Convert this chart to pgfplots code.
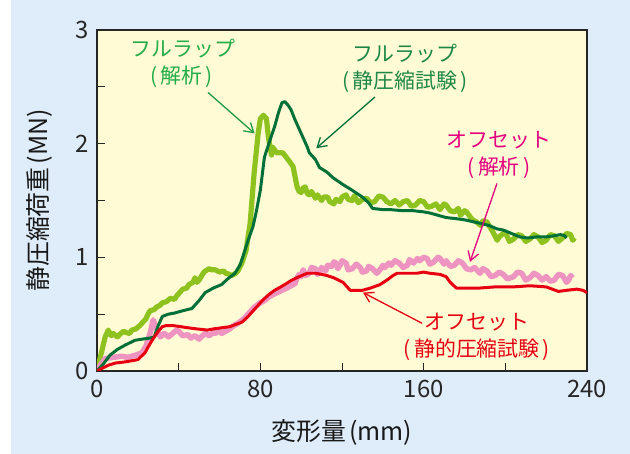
\documentclass[border=0pt]{standalone}
\usepackage{fontspec}
\setmainfont{Noto Sans CJK JP}
\usepackage{pgfplots}
\pgfplotsset{compat=1.18}
\usetikzlibrary{arrows.meta}
\definecolor{bgblue}{RGB}{223,236,249}
\definecolor{plotyellow}{RGB}{255,251,212}
\definecolor{lgreen}{RGB}{141,194,31}
\definecolor{dgreen}{RGB}{0,112,56}
\definecolor{lbllgreen}{RGB}{34,172,74}
\definecolor{lbldgreen}{RGB}{30,135,70}
\definecolor{mypink}{RGB}{238,148,192}
\definecolor{mymagenta}{RGB}{228,0,127}
\definecolor{myred}{RGB}{230,0,18}
\begin{document}
\begin{tikzpicture}
\fill[bgblue] (11bp,0) rectangle (630bp,454bp);
\path[use as bounding box] (0,0) rectangle (630bp,454bp);
\begin{axis}[
  at={(97bp,83bp)}, anchor=south west,
  scale only axis, width=490bp, height=341bp,
  xmin=0, xmax=240, ymin=0, ymax=3,
  axis background/.style={fill=plotyellow},
  axis line style={black!85, line width=1.3pt},
  xtick={0,80,160,240}, minor xtick={40,120,200},
  ytick={0,1,2,3}, minor ytick={0.5,1.5,2.5},
  tick align=inside, xtick pos=bottom, ytick pos=left,
  major tick length=8bp, minor tick length=8bp,
  tick style={black!85, line width=0.9pt},
  tick label style={font=\fontsize{24}{28}\selectfont, text=black!85},
  xticklabel style={yshift=-6bp},
  yticklabel style={xshift=-5bp},
  /pgf/number format/assume math mode=true,
  xlabel={変形量\kern.12em(mm)}, ylabel={静圧縮荷重\kern.12em(MN)},
  label style={font=\fontsize{25}{30}\selectfont, text=black!90},
  xlabel style={at={(axis description cs:0.5,-0.18)}, anchor=center},
  ylabel style={at={(axis description cs:-0.117,0.5)}, anchor=center},
  clip=true,
]
% light green: full wrap (analysis)
\addplot[lgreen, line width=5.2pt, line join=round] coordinates {
(0,0) (2,0.15) (4,0.30) (5.5,0.36) (7,0.31) (8,0.33) (10,0.30) (11,0.32) (13,0.35) (14,0.34)
(16,0.33) (17,0.36) (19,0.37) (21,0.40) (23,0.44) (24,0.46) (25,0.50) (26,0.53) (28,0.54)
(29,0.56) (31,0.58) (32,0.60) (34,0.61) (36,0.64) (38,0.63) (39,0.66) (41,0.70) (42,0.72)
(44,0.73) (45,0.76) (47,0.78) (48,0.82) (49,0.78) (50,0.80) (52,0.86) (53,0.88) (55,0.90)
(56,0.89) (58,0.89) (60,0.87) (62,0.88) (63,0.86) (65,0.85) (66,0.84) (68,0.86) (69,0.88)
(71,0.95) (73,1.06) (75,1.30) (77,1.75) (79,2.10) (80,2.22) (81.5,2.25)
(83,2.22) (84,2.05) (85.5,1.90) (86,1.97) (88,1.92) (91,1.92) (94,1.85) (96,1.80)
(98,1.62) (99,1.58) (100,1.57) (101,1.61) (102,1.62) (103,1.56) (104,1.55) (105,1.58) (107,1.52)
(108,1.55) (110,1.50) (111,1.53) (113,1.53) (114,1.49) (116,1.47) (117,1.51) (119,1.49) (120,1.53)
(122,1.55) (123,1.51) (125,1.50) (126,1.54) (128,1.48) (130,1.51) (132,1.52) (134,1.48) (136,1.49)
(138,1.54) (140,1.53) (142,1.49) (144,1.47) (146,1.50) (148,1.46) (150,1.49) (152,1.50) (154,1.45)
(156,1.46) (158,1.50) (160,1.49) (162,1.44) (164,1.45) (166,1.47) (168,1.42) (170,1.47) (171,1.46)
(173,1.41) (175,1.40) (177,1.43) (178,1.37) (180,1.41) (181,1.40) (183,1.35) (184,1.33) (186,1.31)
(188,1.28) (189,1.32) (191,1.31) (193,1.25) (194,1.22) (196,1.15) (197,1.18) (199,1.21) (200,1.22)
(202,1.14) (204,1.16) (206,1.20) (208,1.19) (210,1.14) (212,1.16) (214,1.20) (216,1.18) (218,1.13)
(220,1.15) (222,1.20) (224,1.19) (226,1.14) (228,1.17) (230,1.21) (232,1.20) (233,1.15) (234,1.17)
};
% pink: offset (analysis)
\addplot[mypink, line width=5.5pt, line join=round] coordinates {
(0,0) (2,0.06) (4,0.11) (8,0.12) (12,0.13) (15,0.12) (19,0.14) (22,0.16)
(24,0.22) (26,0.33) (27.5,0.45) (29,0.38) (30,0.34) (31,0.30) (33,0.33) (35,0.30) (37,0.33)
(39,0.36) (40,0.35) (42,0.31) (44.5,0.32) (46,0.29) (48,0.31) (50,0.28) (51,0.30) (53,0.33)
(55,0.31) (57,0.34) (58,0.33) (60,0.36) (61,0.33) (63,0.35) (65,0.37) (67,0.40) (69,0.42)
(72,0.46) (75,0.52) (77,0.56) (80,0.60) (82,0.62) (84,0.65) (87,0.68) (90.6,0.71) (94,0.74)
(97,0.77) (98,0.82) (99,0.85) (100,0.83) (101,0.89) (102,0.84) (104,0.86) (105,0.91) (107,0.90)
(108,0.85) (109,0.87) (110,0.91) (112,0.88) (113,0.93) (115,0.92) (116,0.96) (117,0.95) (118,0.90)
(119,0.93) (120,0.97) (122,0.95) (123,0.89) (125,0.90) (127,0.94) (129,0.91) (130,0.87) (132,0.88)
(133,0.92) (135,0.90) (137,0.86) (138.6,0.89) (140,0.93) (141,0.91) (143,0.95) (144,0.93) (146,0.97)
(148,0.95) (150,0.91) (152,0.93) (153,0.98) (155,0.95) (157,0.99) (158,0.97) (160,1.00) (161.6,0.99)
(163,0.94) (165,0.96) (167,1.00) (168,0.99) (170,0.94) (171,0.97) (173,0.92) (175,0.93) (177,0.97)
(179,0.95) (181,0.90) (183,0.89) (185,0.91) (187.6,0.86) (189,0.90) (191,0.88) (193,0.83) (195,0.84)
(197,0.87) (199,0.85) (201,0.81) (204,0.83) (206,0.87) (208,0.86) (210,0.80) (212,0.82) (214,0.86)
(216,0.84) (218,0.80) (220,0.83) (222,0.79) (224,0.80) (226,0.85) (228,0.84) (230,0.78) (231,0.80)
(232,0.84) (233,0.82)
};
% dark green: full wrap (static compression test)
\addplot[dgreen, line width=3.0pt, line join=round] coordinates {
(0,0) (3,0.06) (6.4,0.14) (10,0.19) (14,0.23) (18.6,0.27) (22,0.28) (26,0.29)
(28,0.30) (30,0.40) (32,0.48) (35,0.50) (38,0.51) (42,0.53) (46.5,0.55) (50,0.62)
(53,0.69) (57,0.73) (61,0.76) (64,0.81) (67.6,0.86) (70,0.93) (71,0.98) (74,1.15)
(76.4,1.27) (78,1.40) (80,1.59) (82,1.88) (84.7,2.03) (87,2.15) (89,2.28) (90.6,2.36)
(92,2.37) (93.5,2.34) (95,2.30) (97,2.21) (100,2.09) (103,1.97) (104,1.92) (107,1.86)
(109,1.79) (112.6,1.75) (115.6,1.70) (120.5,1.64) (125,1.59) (130,1.53) (133,1.48) (135,1.43)
(140,1.42) (143.5,1.42) (150,1.41) (155,1.41) (160,1.40) (163,1.39) (167,1.37) (171,1.35)
(176,1.34) (180,1.33) (187.5,1.30) (192,1.28) (196,1.25) (199,1.24) (203,1.21) (207,1.18)
(211,1.17) (215.5,1.18) (220,1.18) (224,1.19) (227,1.20) (229,1.19) (230,1.17)
};
% red: offset (static compression test)
\addplot[myred, line width=3.0pt, line join=round] coordinates {
(0,0) (5.4,0.05) (9,0.07) (13.7,0.08) (17,0.09) (20,0.10) (23.5,0.16) (25,0.21)
(27,0.27) (30,0.35) (32,0.39) (34,0.40) (37,0.40) (41,0.39) (44.6,0.38) (49,0.37)
(54,0.36) (57,0.37) (61,0.38) (65,0.39) (68,0.41) (71,0.43) (74,0.48) (77,0.54)
(81,0.62) (84,0.67) (87,0.71) (91,0.75) (95.5,0.80) (99,0.83) (103,0.86) (107,0.86)
(110,0.85) (112.6,0.84) (116,0.82) (120.5,0.78) (122,0.75) (124,0.71) (127,0.71) (130,0.71)
(134,0.73) (138.6,0.76) (142,0.80) (145,0.84) (147,0.86) (152,0.86) (156.7,0.86) (160,0.87)
(163,0.86) (168,0.85) (171,0.83) (173,0.78) (176,0.73) (180,0.73) (187.6,0.73) (195,0.74)
(204,0.74) (212,0.75) (220,0.74) (223,0.72) (226,0.70) (230,0.71) (235,0.72) (238,0.71) (240,0.69)
};
% annotations
\node[text=lbllgreen, align=center, font=\fontsize{21}{27}\selectfont] at (axis cs:42.1,2.71) {フルラップ\\\kern-.1em(\kern.15em解析\kern.15em)};
\draw[lbllgreen!90!black, line width=1.3pt, -{Straight Barb[length=9bp,width=11bp]}] (axis cs:54.4,2.45) -- (axis cs:77.2,2.09);
\node[text=lbldgreen, align=center, font=\fontsize{21}{27}\selectfont] at (axis cs:150.8,2.66) {フルラップ\\(\kern.15em静圧縮試験\kern.15em)};
\draw[dgreen, line width=1.3pt, -{Straight Barb[length=9bp,width=11bp]}] (axis cs:136.1,2.41) -- (axis cs:107.4,1.96);
\node[text=mymagenta, align=center, font=\fontsize{21}{27}\selectfont] at (axis cs:196.9,1.90) {オフセット\\(\kern.15em解析\kern.15em)};
\draw[mymagenta, line width=1.3pt, -{Straight Barb[length=9bp,width=11bp]}] (axis cs:195.9,1.65) -- (axis cs:182.7,0.96);
\node[text=myred, align=center, font=\fontsize{21}{27}\selectfont] at (axis cs:186.1,0.30) {オフセット\\(\kern.15em静的圧縮試験\kern.15em)};
\draw[myred, line width=1.3pt, -{Straight Barb[length=9bp,width=11bp]}] (axis cs:159.2,0.42) -- (axis cs:130.3,0.69);
\end{axis}
\end{tikzpicture}
\end{document}
